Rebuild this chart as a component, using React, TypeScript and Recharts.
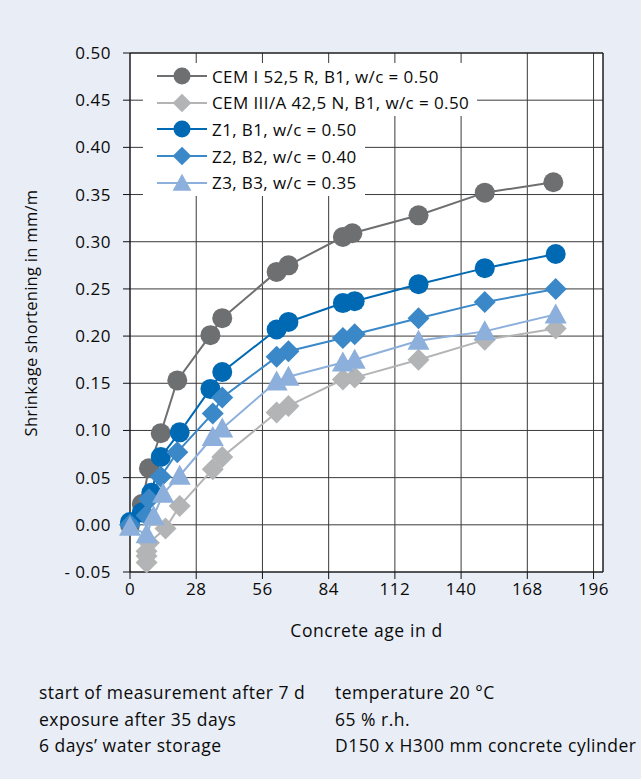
import React from 'react';
import { LineChart, Line, XAxis, YAxis, CartesianGrid, Legend, ReferenceLine } from 'recharts';

const cemIDays = [0, 5, 8, 13, 20, 34, 39, 62, 67, 90, 94, 122, 150, 179];
const cemIValues = [0.0, 0.022, 0.06, 0.097, 0.153, 0.201, 0.219, 0.268, 0.275, 0.305, 0.309, 0.328, 0.352, 0.363];

const cemIIIDays = [7, 7, 7, 8, 15, 21, 35, 39, 62, 67, 90, 95, 122, 150, 180];
const cemIIIValues = [-0.04, -0.033, -0.028, -0.019, -0.004, 0.02, 0.059, 0.072, 0.119, 0.126, 0.154, 0.156, 0.175, 0.196, 0.208];

const z1Days = [0, 5, 9, 13, 21, 34, 39, 62, 67, 90, 95, 122, 150, 180];
const z1Values = [0.003, 0.013, 0.034, 0.072, 0.098, 0.144, 0.162, 0.207, 0.215, 0.235, 0.237, 0.255, 0.272, 0.287];

const z2Days = [0, 7, 8, 13, 20, 35, 39, 62, 67, 90, 95, 122, 150, 180];
const z2Values = [0.0, 0.01, 0.027, 0.051, 0.077, 0.118, 0.135, 0.178, 0.184, 0.198, 0.202, 0.219, 0.236, 0.25];

const z3Days = [0, 7, 10, 14, 21, 35, 39, 62, 67, 90, 95, 122, 150, 180];
const z3Values = [-0.002, -0.01, 0.009, 0.033, 0.052, 0.093, 0.102, 0.152, 0.157, 0.172, 0.175, 0.195, 0.205, 0.223];

const xTicks = [0, 28, 56, 84, 112, 140, 168, 196];
const yTicks = [-0.05, 0, 0.05, 0.1, 0.15, 0.2, 0.25, 0.3, 0.35, 0.4, 0.45, 0.5];

const seriesNames = [
  'CEM I 52,5 R, B1, w/c = 0.50',
  'CEM III/A 42,5 N, B1, w/c = 0.50',
  'Z1, B1, w/c = 0.50',
  'Z2, B2, w/c = 0.40',
  'Z3, B3, w/c = 0.35',
];

const notesLeft = ['start of measurement after 7 d', 'exposure after 35 days', '6 days\u2019 water storage'];
const notesRight = ['temperature 20 \u00b0C', '65 % r.h.', 'D150 x H300 mm concrete cylinder'];

const FONT = '"Open Sans", sans-serif';
const BG = '#e8edf6';
const INK = '#0a0a0a';

const toRows = (days: number[], values: number[]) => days.map((d, i) => ({ day: d, value: values[i] }));

const series = [
  { name: seriesNames[0], color: '#6e6f71', shape: 'circle', data: toRows(cemIDays, cemIValues) },
  { name: seriesNames[1], color: '#b3b4b6', shape: 'diamond', data: toRows(cemIIIDays, cemIIIValues) },
  { name: seriesNames[2], color: '#0069b4', shape: 'circle', data: toRows(z1Days, z1Values) },
  { name: seriesNames[3], color: '#3b88c8', shape: 'diamond', data: toRows(z2Days, z2Values) },
  { name: seriesNames[4], color: '#8cafdb', shape: 'triangle', data: toRows(z3Days, z3Values) },
];

const Marker = ({ cx, cy, shape, color, s = 1 }: any) => {
  if (cx == null || cy == null) return null;
  if (shape === 'circle') return <circle cx={cx} cy={cy} r={10 * s} fill={color} />;
  if (shape === 'diamond') {
    const h = 11 * s;
    return <path d={`M${cx},${cy - h}L${cx + h},${cy}L${cx},${cy + h}L${cx - h},${cy}Z`} fill={color} />;
  }
  const w = 11 * s;
  return <path d={`M${cx},${cy - 11 * s}L${cx + w},${cy + 9 * s}L${cx - w},${cy + 9 * s}Z`} fill={color} />;
};

const LegendBox = () => (
  <div style={{ fontFamily: FONT, fontSize: 17, letterSpacing: 0.4, color: INK }}>
    {series.map((s, i) => (
      <div
        key={s.name}
        style={{
          display: 'flex',
          alignItems: 'center',
          height: 26.6,
          width: i < 2 ? 334 : 222,
          background: '#fff',
        }}
      >
        <svg width={66} height={26} style={{ flex: 'none' }}>
          <line x1={14} y1={13} x2={64} y2={13} stroke={s.color} strokeWidth={2} />
          <Marker cx={39} cy={13} shape={s.shape} color={s.color} s={0.85} />
        </svg>
        <span style={{ marginLeft: 3, whiteSpace: 'nowrap' }}>{s.name}</span>
      </div>
    ))}
  </div>
);

const YLabel = () => {
  const cx = 30;
  const cy = 313;
  return (
    <text x={cx} y={cy} transform={`rotate(-90 ${cx} ${cy})`} textAnchor="middle" dominantBaseline="central"
      fontFamily={FONT} fontSize={16.5} letterSpacing={0.3} fill={INK}>
      Shrinkage shortening in mm/m
    </text>
  );
};

const tickStyle = { fill: INK, fontSize: 17, fontFamily: FONT, letterSpacing: 0.5 };

export default function App() {
  return (
    <div style={{ position: 'absolute', left: 0, top: 0, width: 641, height: 779, background: BG, fontFamily: FONT }}>
      <LineChart width={641} height={779} margin={{ top: 53, right: 38, left: 20, bottom: 147 }}>
        <CartesianGrid stroke="#3a3a3a" strokeWidth={1} fill="#fff" />
        <XAxis
          type="number"
          dataKey="day"
          domain={[0, 200]}
          ticks={xTicks}
          allowDuplicatedCategory={false}
          height={60}
          tickSize={7}
          tickMargin={4}
          stroke="#111"
          tick={tickStyle}
          label={{ value: 'Concrete age in d', position: 'insideBottom', offset: -5, fill: INK, fontSize: 17.5, fontFamily: FONT, letterSpacing: 0.6 }}
        />
        <YAxis
          type="number"
          domain={[-0.05, 0.5]}
          ticks={yTicks}
          width={110}
          tickSize={7}
          tickMargin={12}
          stroke="#111"
          tick={tickStyle}
          tickFormatter={(v: number) => (v < 0 ? '- ' + Math.abs(v).toFixed(2) : v.toFixed(2))}
          label={<YLabel />}
        />
        <ReferenceLine x={200} stroke="#111" />
        <ReferenceLine y={0.5} stroke="#111" />
        {series.map((s) => (
          <Line
            key={s.name}
            data={s.data}
            dataKey="value"
            name={s.name}
            type="linear"
            stroke={s.color}
            strokeWidth={2}
            isAnimationActive={false}
            dot={(p: any) => <Marker key={`${s.name}-${p.index}`} cx={p.cx} cy={p.cy} shape={s.shape} color={s.color} />}
            activeDot={false}
          />
        ))}
        <Legend
          layout="horizontal"
          verticalAlign="middle"
          align="center"
          content={<LegendBox />}
          wrapperStyle={{ top: 63, left: 143, width: 340 }}
        />
      </LineChart>
      <div style={{ position: 'absolute', left: 39, top: 679, fontSize: 17.5, letterSpacing: 0.5, lineHeight: '26.7px', color: INK }}>
        {notesLeft.map((t) => <div key={t}>{t}</div>)}
      </div>
      <div style={{ position: 'absolute', left: 335, top: 679, fontSize: 17.5, letterSpacing: 0.5, lineHeight: '26.7px', color: INK }}>
        {notesRight.map((t) => <div key={t}>{t}</div>)}
      </div>
    </div>
  );
}
